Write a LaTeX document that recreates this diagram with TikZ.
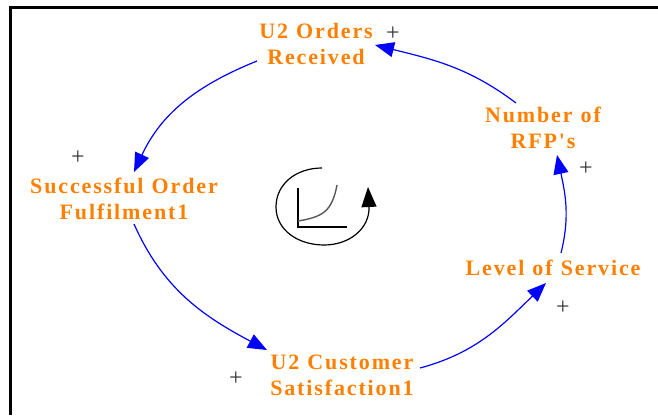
\documentclass[tikz,border=0pt]{standalone}
\usepackage{fontspec}
\setmainfont{Liberation Serif}
\newfontfamily\labelfont[LetterSpace=8.5,WordSpace=1.1]{Liberation Serif Bold}
\usetikzlibrary{arrows.meta}
\definecolor{varorange}{RGB}{255,128,0}
\tikzset{
	var/.style={text=varorange,font=\labelfont\fontsize{22}{26}\selectfont,align=center,inner sep=1pt},
	sign/.style={font=\fontsize{24}{24}\selectfont,inner sep=0pt,text=black!80},
	link/.style={draw=blue,line width=1.2pt,-{Triangle[length=19pt,width=15pt]}}
}
\begin{document}
\begin{tikzpicture}[x=1pt,y=-1pt]
	\useasboundingbox (0,0) rectangle (658,415);
	\fill[white] (0,0) rectangle (658,415);
	\draw[line width=3pt] (658,7.5) -- (10.5,7.5) -- (10.5,415);

	\node[var] (orders) at (316,44) {U2 Orders\\Received};
	\node[var] (rfp) at (543,128) {Number of\\RFP's};
	\node[var] (service) at (553,268) {Level of Service};
	\node[var] (satisfaction) at (342,375) {U2 Customer\\Satisfaction1};
	\node[var] (fulfilment) at (124,199) {Successful Order\\Fulfilment1};

	\draw[link] ([shift={(-59,17)}]orders.center) to[out=202,in=65] ([shift={(10,-27)}]fulfilment.center);
	\draw[link] ([shift={(10,25)}]fulfilment.center) to[out=-66,in=152] ([shift={(-75,-25)}]satisfaction.center);
	\draw[link] ([shift={(78,-7)}]satisfaction.center) to[out=15,in=-136] ([shift={(-7,15)}]service.center);
	\draw[link] ([shift={(8,-15)}]service.center) to[out=76,in=-78] ([shift={(14,27)}]rfp.center);
	\draw[link] ([shift={(-27,-25)}]rfp.center) to[out=143,in=-14] ([shift={(59,1)}]orders.center);

	\node[sign] (s1) at (393,34) {+};
	\node[sign] (s2) at (78,158) {+};
	\node[sign] (s3) at (236,379) {+};
	\node[sign] (s4) at (563,308) {+};
	\node[sign] (s5) at (586,169) {+};

	% loop symbol in the middle
	\draw[line width=1.2pt,-{Triangle[length=20pt,width=15pt]}] (322,168) .. controls (296,168) and (276,184) .. (276,207) .. controls (276,230) and (298,245) .. (324,245) .. controls (350,245) and (370,228) .. (368,187);
	\draw[line width=1.2pt] (298,188) -- (298,227) -- (347,227);
	\draw[line width=1.4pt,black!65] (298,221) .. controls (322,217) and (332,212) .. (337,185);
\end{tikzpicture}
\end{document}
